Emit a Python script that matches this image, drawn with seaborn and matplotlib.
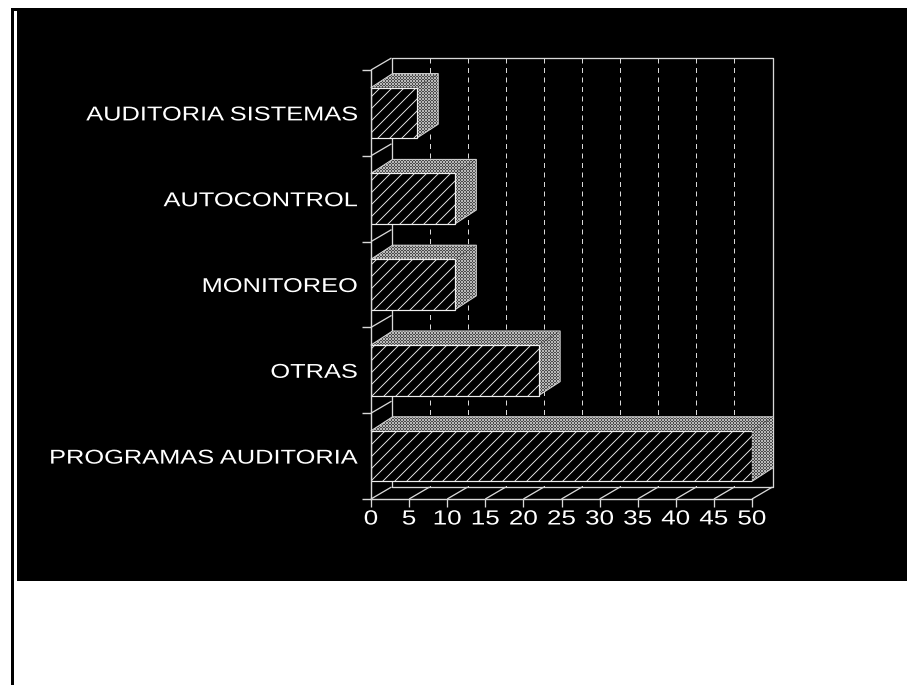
import matplotlib
matplotlib.use("Agg")
import matplotlib.pyplot as plt
from matplotlib.patches import Rectangle
from matplotlib.patheffects import AbstractPathEffect
from matplotlib.transforms import Affine2D
import numpy as np
import pandas as pd
import seaborn as sns

categories = ["AUDITORIA SISTEMAS", "AUTOCONTROL", "MONITOREO", "OTRAS", "PROGRAMAS AUDITORIA"]
values = [6, 11, 11, 22, 50]
x_ticks = [0, 5, 10, 15, 20, 25, 30, 35, 40, 45, 50]

W, H = 909, 687
LINE = "#d8d8d8"
BAR_WIDTH = 0.59
TEXT_STRETCH = 1.27


class WideText(AbstractPathEffect):
    """Widen glyphs horizontally about a fixed x position in display pixels."""

    def __init__(self, anchor_x, stretch):
        super().__init__()
        self.anchor_x = anchor_x
        self.stretch = stretch

    def draw_path(self, renderer, gc, tpath, affine, rgbFace=None):
        wide = (affine + Affine2D().translate(-self.anchor_x, 0)
                .scale(self.stretch, 1).translate(self.anchor_x, 0))
        renderer.draw_path(gc, tpath, wide, rgbFace)


sns.set_theme(style="white")
plt.rcParams["font.family"] = ["Liberation Sans", "DejaVu Sans"]
plt.rcParams["hatch.linewidth"] = 0.9

fig = plt.figure(figsize=(W / 72, H / 72), dpi=72, facecolor="white")


def px_rect(x0, y0, x1, y1, color):
    fig.add_artist(Rectangle((x0 / W, 1 - y1 / H), (x1 - x0) / W, (y1 - y0) / H,
                             transform=fig.transFigure, facecolor=color,
                             edgecolor="none", zorder=-5))


# Page furniture: black panel, and the rule running down the left margin
px_rect(11, 8, 907, 11, "black")
px_rect(11, 8, 14, H - 2, "black")
px_rect(17, 8, 907, 581, "black")

# Axes span the front plane of the pseudo-3D plot
ax_l, ax_r, ax_t, ax_b = 371, 752, 70, 499
ax = fig.add_axes([ax_l / W, 1 - ax_b / H, (ax_r - ax_l) / W, (ax_b - ax_t) / H])
ax.set_facecolor("none")

px_per_x = (ax_r - ax_l) / 50
px_per_y = (ax_b - ax_t) / 5
# Oblique projection offsets, in data units
wall_dx, wall_dy = 20.5 / px_per_x, 12 / px_per_y
bar_dx, bar_dy = 21.5 / px_per_x, 14 / px_per_y

df = pd.DataFrame({"categoria": categories, "valor": values})
sns.barplot(data=df, y="categoria", x="valor", orient="h", width=BAR_WIDTH, ax=ax,
            color="black", saturation=1, edgecolor="#efefef", linewidth=1.2,
            hatch="//", zorder=4)
ax.set_xlim(0, 50)
ax.set_ylim(4.5, -0.5)
ax.set_xlabel("")
ax.set_ylabel("")

# Back wall and floor
y_top, y_bot = -0.5, 4.5
line_kw = dict(color=LINE, lw=1.3, clip_on=False, solid_capstyle="butt")
ax.plot([wall_dx, 50 + wall_dx, 50 + wall_dx, wall_dx, wall_dx],
        [y_top - wall_dy, y_top - wall_dy, y_bot - wall_dy, y_bot - wall_dy, y_top - wall_dy],
        zorder=1, **line_kw)
for t in x_ticks:
    ax.plot([t, t + wall_dx], [y_bot, y_bot - wall_dy], zorder=1, **line_kw)
    if 0 < t < 50:
        ax.plot([t + wall_dx] * 2, [y_top - wall_dy, y_bot - wall_dy], color=LINE,
                lw=1.0, ls=(0, (5, 4.5)), clip_on=False, zorder=1)
for s in np.arange(-0.5, 4.5):
    ax.plot([0, wall_dx], [s, s - wall_dy], zorder=1, **line_kw)

# Top and right faces of each bar, built from its value
for i, v in enumerate(values):
    top, bot = i - BAR_WIDTH / 2, i + BAR_WIDTH / 2
    face_kw = dict(facecolor="black", edgecolor="#b8b8b8", linewidth=0, hatch="xxxxxxxx",
                   clip_on=False, zorder=3)
    ax.fill([0, v, v + bar_dx, bar_dx], [top, top, top - bar_dy, top - bar_dy], **face_kw)
    ax.fill([v, v + bar_dx, v + bar_dx, v], [top, top - bar_dy, bot - bar_dy, bot], **face_kw)
    ax.plot([0, bar_dx, v + bar_dx, v + bar_dx, v], [top, top - bar_dy, top - bar_dy, bot - bar_dy, bot],
            color=LINE, lw=1.0, clip_on=False, zorder=3.5)

# Front-plane axes
for name in ("top", "right"):
    ax.spines[name].set_visible(False)
for name in ("left", "bottom"):
    ax.spines[name].set_visible(True)
    ax.spines[name].set_color(LINE)
    ax.spines[name].set_linewidth(1.4)
    ax.spines[name].set_zorder(5)

ax.set_xticks(x_ticks)
ax.set_xticklabels([str(t) for t in x_ticks])
ax.tick_params(axis="x", which="major", bottom=True, length=8, width=1.3, color=LINE,
               labelcolor="white", labelsize=20.5, pad=2.5)
ax.set_yticks(range(len(categories)))
ax.set_yticklabels(categories, va="center_baseline")
label_pad = 13
ax.tick_params(axis="y", which="major", left=False, length=0, labelcolor="white", labelsize=20, pad=label_pad)
ax.set_yticks(np.arange(-0.5, 5), minor=True)
ax.tick_params(axis="y", which="minor", left=True, length=9, width=1.4, color=LINE)

for t, label in zip(x_ticks, ax.get_xticklabels()):
    label.set_path_effects([WideText(ax_l + t * px_per_x, TEXT_STRETCH)])
for label in ax.get_yticklabels():
    label.set_path_effects([WideText(ax_l - label_pad, TEXT_STRETCH)])

fig.savefig("out.png", dpi=72, facecolor="white")
